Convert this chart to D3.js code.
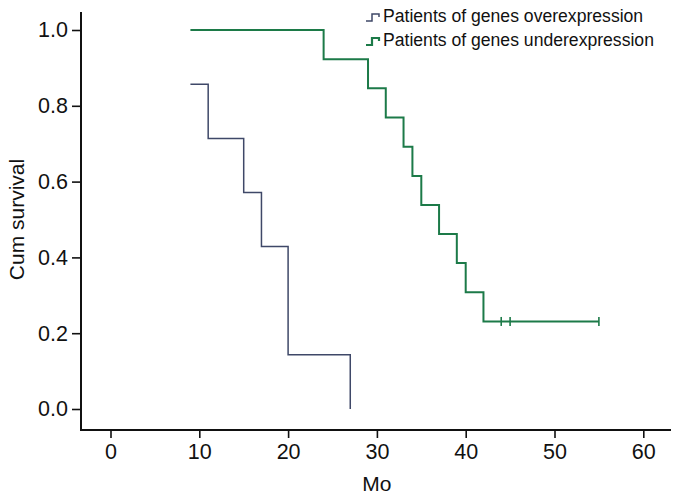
<!DOCTYPE html>
<html><head><meta charset="utf-8">
<script src="https://cdn.jsdelivr.net/npm/d3@7"></script>
<style>
html,body{margin:0;padding:0;background:#fff;}
svg{display:block;font-family:"Liberation Sans",Arial,sans-serif;}
</style></head>
<body><svg id="c" width="678" height="495"></svg>
<script>
// Data
const seriesNames = ["Patients of genes overexpression", "Patients of genes underexpression"];
const seriesColors = ["#3f4868", "#1c7a48"];
const overTimes = [9, 11, 15, 17, 20, 27];
const overSurv  = [0.857, 0.714, 0.571, 0.429, 0.143, 0.0];
const underTimes = [9, 24, 29, 31, 33, 34, 35, 37, 39, 40, 42, 55];
const underSurv  = [1.0, 0.923, 0.846, 0.769, 0.692, 0.615, 0.538, 0.462, 0.385, 0.308, 0.231, 0.231];
const underCensorTimes = [44, 45, 55];
const underCensorSurv = [0.231, 0.231, 0.231];
const xTicks = [0, 10, 20, 30, 40, 50, 60];
const yTicks = [0.0, 0.2, 0.4, 0.6, 0.8, 1.0];
const xTitle = "Mo", yTitle = "Cum survival";

const svg = d3.select("#c");
const x = d3.scaleLinear().domain([0, 60]).range([110.5, 643.3]);
const y = d3.scaleLinear().domain([0, 1]).range([409, 30]);
const axisY = 430, axisX = 81;

// Axis frame lines
svg.append("line").attr("x1", axisX).attr("x2", axisX).attr("y1", 12).attr("y2", axisY + 1)
  .attr("stroke", "#111").attr("stroke-width", 2);
svg.append("line").attr("x1", axisX - 1).attr("x2", 671).attr("y1", axisY).attr("y2", axisY)
  .attr("stroke", "#111").attr("stroke-width", 2);

// X axis
const gx = svg.append("g").attr("transform", `translate(0,${axisY})`)
  .call(d3.axisBottom(x).tickValues(xTicks).tickFormat(d3.format("d")).tickSize(8).tickPadding(6));
gx.select(".domain").remove();
gx.selectAll(".tick line").attr("stroke", "#111").attr("stroke-width", 1.6);
gx.selectAll(".tick text").attr("font-size", 21.5).attr("fill", "#111")
  .attr("font-family", "Liberation Sans, Arial, sans-serif");

// Y axis
const gy = svg.append("g").attr("transform", `translate(${axisX},0)`)
  .call(d3.axisLeft(y).tickValues(yTicks).tickFormat(d3.format(".1f")).tickSize(9).tickPadding(4));
gy.select(".domain").remove();
gy.selectAll(".tick line").attr("stroke", "#111").attr("stroke-width", 1.6);
gy.selectAll(".tick text").attr("font-size", 21.5).attr("fill", "#111")
  .attr("font-family", "Liberation Sans, Arial, sans-serif");

// Titles
svg.append("text").attr("x", (x(0) + x(60)) / 2).attr("y", 491).attr("text-anchor", "middle")
  .attr("font-size", 21).attr("fill", "#111").text(xTitle);
svg.append("text").attr("transform", `translate(24,${(y(0) + y(1)) / 2}) rotate(-90)`)
  .attr("text-anchor", "middle").attr("font-size", 21).attr("fill", "#111").text(yTitle);

// Survival curves
const line = d3.line().x(d => x(d[0])).y(d => y(d[1])).curve(d3.curveStepAfter);
const overPts = overTimes.map((t, i) => [t, overSurv[i]]);
const underPts = underTimes.map((t, i) => [t, underSurv[i]]);
svg.append("path").attr("d", line(overPts)).attr("fill", "none")
  .attr("stroke", seriesColors[0]).attr("stroke-width", 1.5);
svg.append("path").attr("d", line(underPts)).attr("fill", "none")
  .attr("stroke", seriesColors[1]).attr("stroke-width", 2);
svg.selectAll(".cens").data(underCensorTimes.map((t, i) => [t, underCensorSurv[i]])).enter()
  .append("line").attr("class", "cens")
  .attr("x1", d => x(d[0])).attr("x2", d => x(d[0]))
  .attr("y1", d => y(d[1]) - 4.5).attr("y2", d => y(d[1]) + 4.5)
  .attr("stroke", seriesColors[1]).attr("stroke-width", 1.6);

// Legend
const leg = svg.append("g").attr("transform", "translate(366,16)");
seriesNames.forEach((name, i) => {
  const g = leg.append("g").attr("transform", `translate(0,${i * 24})`);
  g.append("path").attr("d", "M0,5 H6 V-2 H13 V1").attr("fill", "none")
    .attr("stroke", seriesColors[i]).attr("stroke-width", i === 0 ? 1.5 : 2.2);
  g.append("text").attr("x", 17).attr("y", 6).attr("font-size", 17.6).attr("fill", "#111").text(name);
});
</script></body></html>
